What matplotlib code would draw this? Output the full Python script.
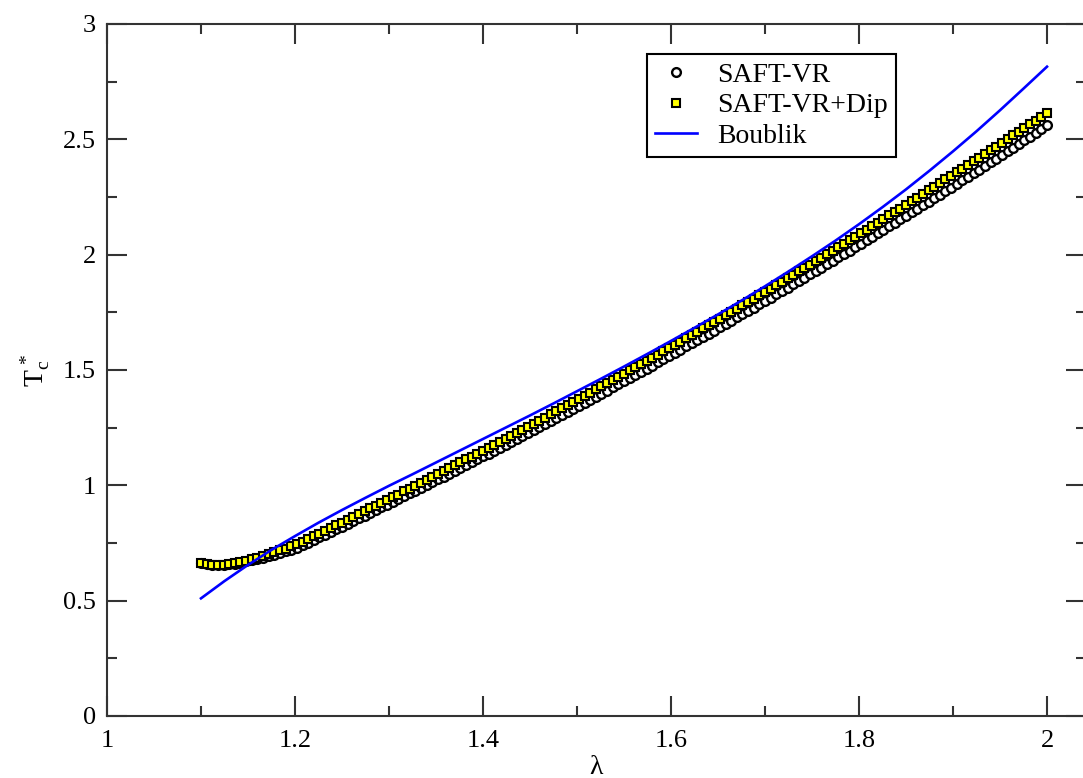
import numpy as np
import matplotlib
matplotlib.use('Agg')
import matplotlib.pyplot as plt

plt.rcParams['font.family'] = ['Liberation Serif', 'DejaVu Serif']
plt.rcParams['mathtext.fontset'] = 'custom'
plt.rcParams['mathtext.rm'] = 'Liberation Serif'
plt.rcParams['mathtext.it'] = 'Liberation Serif:italic'

# lambda grid of the SAFT-VR points
lam_saft = [
    1.100, 1.106, 1.112, 1.118, 1.124, 1.130, 1.136, 1.142, 1.148, 1.154,
    1.160, 1.166, 1.172, 1.178, 1.184, 1.190, 1.196, 1.202, 1.208, 1.214,
    1.220, 1.226, 1.232, 1.238, 1.244, 1.250, 1.256, 1.262, 1.268, 1.274,
    1.280, 1.286, 1.292, 1.298, 1.304, 1.310, 1.316, 1.322, 1.328, 1.334,
    1.340, 1.346, 1.352, 1.358, 1.364, 1.370, 1.376, 1.382, 1.388, 1.394,
    1.400, 1.406, 1.412, 1.418, 1.424, 1.430, 1.436, 1.442, 1.448, 1.454,
    1.460, 1.466, 1.472, 1.478, 1.484, 1.490, 1.496, 1.502, 1.508, 1.514,
    1.520, 1.526, 1.532, 1.538, 1.544, 1.550, 1.556, 1.562, 1.568, 1.574,
    1.580, 1.586, 1.592, 1.598, 1.604, 1.610, 1.616, 1.622, 1.628, 1.634,
    1.640, 1.646, 1.652, 1.658, 1.664, 1.670, 1.676, 1.682, 1.688, 1.694,
    1.700, 1.706, 1.712, 1.718, 1.724, 1.730, 1.736, 1.742, 1.748, 1.754,
    1.760, 1.766, 1.772, 1.778, 1.784, 1.790, 1.796, 1.802, 1.808, 1.814,
    1.820, 1.826, 1.832, 1.838, 1.844, 1.850, 1.856, 1.862, 1.868, 1.874,
    1.880, 1.886, 1.892, 1.898, 1.904, 1.910, 1.916, 1.922, 1.928, 1.934,
    1.940, 1.946, 1.952, 1.958, 1.964, 1.970, 1.976, 1.982, 1.988, 1.994,
    2.000,
]

# SAFT-VR
tc_saft = [
    0.665, 0.659, 0.656, 0.655, 0.656, 0.658, 0.661, 0.665, 0.670, 0.675,
    0.681, 0.687, 0.694, 0.700, 0.707, 0.714, 0.721, 0.729, 0.740, 0.752,
    0.763, 0.775, 0.786, 0.798, 0.810, 0.821, 0.833, 0.845, 0.857, 0.869,
    0.881, 0.892, 0.904, 0.916, 0.928, 0.940, 0.953, 0.965, 0.977, 0.989,
    1.001, 1.014, 1.026, 1.038, 1.051, 1.063, 1.075, 1.088, 1.100, 1.113,
    1.126, 1.138, 1.151, 1.164, 1.176, 1.189, 1.202, 1.215, 1.227, 1.240,
    1.253, 1.266, 1.279, 1.292, 1.305, 1.318, 1.332, 1.345, 1.358, 1.371,
    1.385, 1.398, 1.411, 1.425, 1.438, 1.451, 1.465, 1.478, 1.492, 1.506,
    1.519, 1.533, 1.547, 1.560, 1.574, 1.588, 1.602, 1.616, 1.629, 1.643,
    1.657, 1.671, 1.685, 1.700, 1.714, 1.728, 1.742, 1.756, 1.770, 1.785,
    1.799, 1.813, 1.828, 1.842, 1.857, 1.871, 1.886, 1.900, 1.915, 1.930,
    1.944, 1.959, 1.974, 1.988, 2.003, 2.018, 2.033, 2.048, 2.063, 2.078,
    2.093, 2.108, 2.123, 2.138, 2.153, 2.168, 2.184, 2.199, 2.214, 2.230,
    2.245, 2.260, 2.276, 2.291, 2.307, 2.322, 2.338, 2.353, 2.369, 2.385,
    2.400, 2.416, 2.432, 2.448, 2.464, 2.480, 2.495, 2.511, 2.527, 2.543,
    2.560,
]

# SAFT-VR + dipolar term (same lambda grid)
tc_dip = [
    0.663, 0.657, 0.654, 0.654, 0.656, 0.659, 0.663, 0.668, 0.674, 0.680,
    0.687, 0.694, 0.702, 0.710, 0.718, 0.726, 0.735, 0.744, 0.755, 0.768,
    0.779, 0.791, 0.803, 0.815, 0.827, 0.838, 0.851, 0.863, 0.875, 0.888,
    0.900, 0.911, 0.924, 0.936, 0.948, 0.960, 0.974, 0.986, 0.998, 1.011,
    1.023, 1.036, 1.049, 1.061, 1.074, 1.086, 1.099, 1.112, 1.124, 1.138,
    1.151, 1.163, 1.177, 1.190, 1.202, 1.215, 1.229, 1.242, 1.254, 1.268,
    1.281, 1.294, 1.308, 1.321, 1.334, 1.347, 1.362, 1.375, 1.388, 1.402,
    1.416, 1.429, 1.443, 1.457, 1.470, 1.483, 1.498, 1.511, 1.525, 1.540,
    1.553, 1.567, 1.582, 1.595, 1.609, 1.623, 1.638, 1.652, 1.665, 1.680,
    1.694, 1.708, 1.723, 1.738, 1.752, 1.766, 1.781, 1.795, 1.809, 1.825,
    1.839, 1.853, 1.869, 1.883, 1.898, 1.912, 1.928, 1.942, 1.957, 1.973,
    1.987, 2.002, 2.018, 2.032, 2.047, 2.062, 2.078, 2.093, 2.108, 2.124,
    2.139, 2.154, 2.170, 2.185, 2.200, 2.215, 2.232, 2.247, 2.262, 2.279,
    2.294, 2.309, 2.326, 2.341, 2.357, 2.372, 2.389, 2.404, 2.420, 2.437,
    2.452, 2.468, 2.485, 2.501, 2.517, 2.533, 2.549, 2.565, 2.581, 2.598,
    2.615,
]

# Boublik
lam_boub = [
    1.100, 1.125, 1.150, 1.175, 1.200, 1.225, 1.250, 1.275, 1.300, 1.325,
    1.350, 1.375, 1.400, 1.425, 1.450, 1.475, 1.500, 1.525, 1.550, 1.575,
    1.600, 1.625, 1.650, 1.675, 1.700, 1.725, 1.750, 1.775, 1.800, 1.825,
    1.850, 1.875, 1.900, 1.925, 1.950, 1.975, 2.000,
]
tc_boub = [
    0.510, 0.585, 0.655, 0.720, 0.780, 0.838, 0.893, 0.946, 0.998, 1.048,
    1.099, 1.150, 1.201, 1.252, 1.303, 1.355, 1.408, 1.461, 1.515, 1.570,
    1.626, 1.683, 1.741, 1.801, 1.863, 1.927, 1.993, 2.061, 2.132, 2.206,
    2.283, 2.364, 2.448, 2.535, 2.626, 2.720, 2.815,
]

fig = plt.figure(figsize=(10.83, 7.78), dpi=100)
W, H = 1083, 778
ax = fig.add_axes([107 / W, (778 - 716) / H, (1086 - 107) / W, (716 - 24) / H])

ax.plot(lam_saft, tc_saft, 'o', ms=6.3, mfc='white', mec='black', mew=1.7,
        label='SAFT-VR', zorder=2)
ax.plot(lam_saft, tc_dip, 's', ms=5.8, mfc='#ffff00', mec='black', mew=1.5,
        label='SAFT-VR+Dip', zorder=3)
ax.plot(lam_boub, tc_boub, '-', color='#0000ff', lw=1.9, label='Boublik', zorder=4)

ax.set_xlim(1.0, 1.0 + (1086 - 107) / 940)
ax.set_ylim(0, 3)
ax.set_xticks([1, 1.2, 1.4, 1.6, 1.8, 2])
ax.set_xticklabels(['1', '1.2', '1.4', '1.6', '1.8', '2'])
ax.set_xticks([1.1, 1.3, 1.5, 1.7, 1.9], minor=True)
ax.set_yticks([0, 0.5, 1, 1.5, 2, 2.5, 3])
ax.set_yticklabels(['0', '0.5', '1', '1.5', '2', '2.5', '3'])
ax.set_yticks([0.25, 0.75, 1.25, 1.75, 2.25, 2.75], minor=True)

frame = '#333333'
for s in ax.spines.values():
    s.set_linewidth(1.5)
    s.set_color(frame)
ax.tick_params(which='both', direction='in', top=True, right=True, colors=frame,
               labelcolor='black', labelsize=19, width=1.5)
ax.tick_params(axis='x', which='major', length=14.5, pad=10)
ax.tick_params(axis='y', which='major', length=14.5, pad=8)
ax.tick_params(which='minor', length=7.5)

ax.set_xlabel('λ', fontsize=20, labelpad=2)
ax.set_ylabel(r'$\mathrm{T}_\mathrm{c}^{\,*}$', fontsize=20, labelpad=8)

leg = ax.legend(loc='upper left', bbox_to_anchor=((647 - 107) / (1086 - 107), (716 - 54) / (716 - 24)),
                fontsize=20, frameon=True, fancybox=False, shadow=False,
                borderpad=0.3, labelspacing=0.18, handlelength=1.5, handletextpad=0.72,
                borderaxespad=0, markerscale=1.0)
leg.get_frame().set_edgecolor('black')
leg.get_frame().set_linewidth(1.5)
leg.get_frame().set_alpha(1)

fig.savefig('out.png', dpi=100)
